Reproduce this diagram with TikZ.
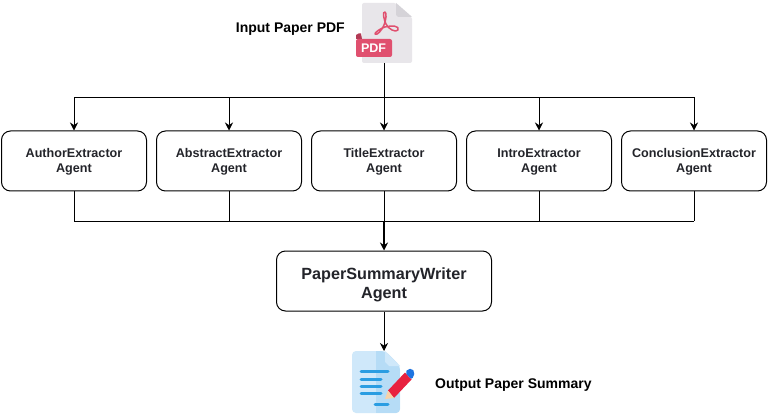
\documentclass[tikz,border=0pt]{standalone}
\usepackage{fontspec}
\setmainfont{Liberation Sans}
\usetikzlibrary{arrows.meta}
\definecolor{ink}{HTML}{000000}
\definecolor{txt}{HTML}{23242A}
\definecolor{pdfpage}{HTML}{E8E6EA}
\definecolor{pdffold}{HTML}{D5D3D8}
\definecolor{pdfred}{HTML}{E0506F}
\definecolor{pdfdark}{HTML}{B23A55}
\definecolor{doclight}{HTML}{CFE8FA}
\definecolor{docmid}{HTML}{B6DCF6}
\definecolor{docline}{HTML}{2A9DE2}
\definecolor{penred}{HTML}{E8213F}
\definecolor{penblue}{HTML}{1F74E0}
\definecolor{pentip}{HTML}{F8D2A8}
\newcommand{\toppad}[1]{\rule{0pt}{#1}}
\tikzset{
  x=1pt,y=-1pt,
  agent/.style={draw=ink,line width=1pt,rounded corners=9pt,minimum width=145pt,minimum height=60pt,align=center,font=\fontsize{12.6}{14.5}\selectfont\bfseries,text=txt,inner sep=0pt},
  writer/.style={agent,minimum width=215pt,font=\fontsize{16.2}{19}\selectfont\bfseries},
  caption/.style={font=\fontsize{14}{16}\selectfont\bfseries,text=ink,inner sep=0pt},
  wire/.style={draw=ink,line width=0.8pt},
  arrow/.style={wire,-{Stealth[length=8pt,width=8pt]}}
}
\begin{document}
\begin{tikzpicture}
\useasboundingbox (0,0) rectangle (768,414);
\fill[white] (0,0) rectangle (768,414);
% PDF icon
\fill[pdfpage,rounded corners=2pt] (362,3) -- (396,3) -- (412,17) -- (412,63) -- (362,63) -- cycle;
\fill[pdffold] (396,3) -- (412,17) -- (398,17) -- (396,15) -- cycle;
\draw[pdfred,line width=1.5pt,line join=round] (385,12) .. controls (382,11) and (384,20) .. (386,24) .. controls (388,29) and (396,33) .. (398,30) .. controls (400,26) and (392,25) .. (385,27) .. controls (381,28) and (374,33) .. (375,34) .. controls (377,36) and (382,30) .. (384,25) .. controls (386,20) and (387,13) .. (385,12) -- cycle;
\fill[pdfdark] (356,39) -- (356,35) .. controls (358,33) and (360,33) .. (361,33.5) -- (362,39) -- cycle;
\fill[pdfred,rounded corners=2pt] (356,39) -- (392,39) -- (392,57) -- (356,57) -- cycle;
\node[inner sep=0pt,text=white,font=\fontsize{12.5}{13}\selectfont\bfseries] (pdflabel) at (373.5,48.5) {PDF};
\node[caption,anchor=east] (input) at (345,29.5) {Input Paper PDF};
\coordinate (pdf) at (384,63);
% Agents
\node[agent] (author) at (74,161) {\toppad{12pt}AuthorExtractor\\\strut Agent};
\node[agent] (abstract) at (229,161) {\toppad{12pt}AbstractExtractor\\\strut Agent};
\node[agent] (title) at (384,161) {\toppad{12pt}TitleExtractor\\\strut Agent};
\node[agent] (intro) at (539,161) {\toppad{12pt}IntroExtractor\\\strut Agent};
\node[agent] (conclusion) at (694,161) {\toppad{12pt}ConclusionExtractor\\\strut Agent};
\node[writer] (writer) at (384,281) {\toppad{22pt}PaperSummaryWriter\\\strut Agent};
% buses
\coordinate (topbus) at (384,97.5);
\coordinate (botbus) at (384,221);
\draw[wire] (pdf) -- (topbus);
\draw[wire] (topbus -| author) -- (topbus -| conclusion);
\foreach \n in {author,abstract,title,intro,conclusion}{
  \draw[arrow] (topbus -| \n) -- (\n.north);
  \draw[wire] (\n.south) -- (botbus -| \n);
}
\draw[wire] (botbus -| author) -- (botbus -| conclusion);
\draw[arrow,line width=1.1pt] (botbus) -- (writer.north);
% output icon
\coordinate (doc) at (384,351);
\draw[arrow] (writer.south) -- (doc);
\fill[doclight,rounded corners=4pt] (352,351) -- (385,351) -- (400,366) -- (400,413) -- (352,413) -- cycle;
\begin{scope}
\clip[rounded corners=4pt] (352,351) -- (385,351) -- (400,366) -- (400,413) -- (352,413) -- cycle;
\fill[docmid] (376,351) rectangle (400,413);
\end{scope}
\fill[doclight] (385,351) -- (400,366) -- (389,366) -- (385,362) -- cycle;
\foreach \ya/\xb in {371/388,379/381,386/381,393/381}{
  \draw[docline,line width=3pt,line cap=round] (361,\ya) -- (\xb,\ya);
}
\draw[docline,line width=3pt,line cap=round] (375,404) -- (388,404);
\fill[penred] (388,390.5) -- (405,372.5) -- (411.5,379.5) -- (394,398) -- cycle;
\fill[penblue,rounded corners=2pt] (405,372.5) -- (408,369) -- (412,368.5) -- (414.5,372) -- (414,376) -- (411.5,379.5) -- cycle;
\fill[pentip] (388,390.5) -- (394,398) -- (385,399) -- cycle;
\node[caption,anchor=west] (output) at (435,385) {Output Paper Summary};
\end{tikzpicture}
\end{document}
